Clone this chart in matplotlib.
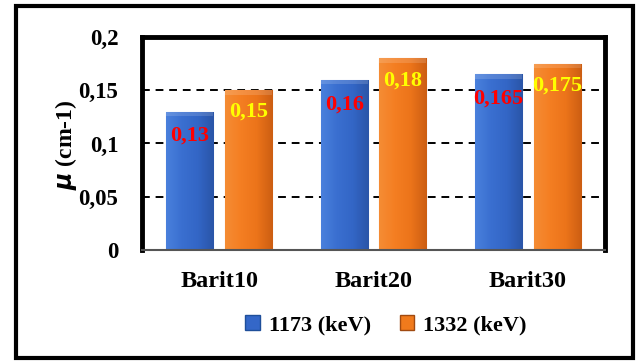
import numpy as np
import matplotlib
matplotlib.use("Agg")
import matplotlib.pyplot as plt
from matplotlib.patches import Rectangle, Patch
from matplotlib.colors import LinearSegmentedColormap

plt.rcParams['font.family'] = ['Liberation Serif', 'DejaVu Serif']
plt.rcParams['font.weight'] = 'bold'

categories = ["Barit10", "Barit20", "Barit30"]
mu_1173 = [0.13, 0.16, 0.165]
mu_1332 = [0.15, 0.18, 0.175]
labels_1173 = ["0,13", "0,16", "0,165"]
labels_1332 = ["0,15", "0,18", "0,175"]
yticks = [0, 0.05, 0.1, 0.15, 0.2]
ytick_labels = ["0", "0,05", "0,1", "0,15", "0,2"]

blue = "#3467c8"
orange = "#f07a1c"
blue_cmap = LinearSegmentedColormap.from_list("b", ["#4a80dc", "#3a6fd0", "#3366c6", "#2a55a8"])
orange_cmap = LinearSegmentedColormap.from_list("o", ["#f58c34", "#f47e22", "#ec741a", "#cc5e12"])

fig = plt.figure(figsize=(6.43, 3.61), dpi=100)

# outer frame
fig.patches.append(Rectangle((0.025, 0.009), 0.959, 0.974, transform=fig.transFigure,
                             fill=False, edgecolor="black", linewidth=3.0, zorder=10))

ax = fig.add_axes([0.2208, 0.3075, 0.7201, 0.59])
x = np.arange(len(categories))
width = 0.305
off = 0.19


def gradient_bars(bars, cmap):
    grad = np.linspace(0, 1, 64).reshape(1, -1)
    for b in bars:
        b.set_facecolor("none")
        x0, y0 = b.get_x(), b.get_y()
        w, h = b.get_width(), b.get_height()
        im = ax.imshow(grad, cmap=cmap, extent=(x0, x0 + w, y0, y0 + h),
                       aspect="auto", zorder=2, interpolation="bicubic")
        im.set_clip_path(b)
        # light bevel at the top of the bar
        ax.add_patch(Rectangle((x0, y0 + h - 0.004), w, 0.004, facecolor="white",
                               alpha=0.15, edgecolor="none", zorder=3))


b1 = ax.bar(x - off, mu_1173, width, color=blue, edgecolor="#9ab4e0", linewidth=0.8, zorder=2)
b2 = ax.bar(x + off, mu_1332, width, color=orange, edgecolor="#e0a070", linewidth=0.8, zorder=2)
gradient_bars(b1, blue_cmap)
gradient_bars(b2, orange_cmap)

for xi, v, t in zip(x, mu_1173, labels_1173):
    ax.text(xi - off, v - 0.023, t, ha="center", va="center", color="red",
            fontsize=16, fontweight="bold", zorder=5)
for xi, v, t in zip(x, mu_1332, labels_1332):
    ax.text(xi + off, v - 0.0205, t, ha="center", va="center", color="#ffff00",
            fontsize=16, fontweight="bold", zorder=5)

ax.set_xlim(-0.5, 2.5)
ax.set_ylim(0, 0.2)
ax.set_yticks(yticks)
ax.set_yticklabels(ytick_labels, fontsize=16.5, fontweight="bold")
ax.set_xticks(x)
ax.set_xticklabels(categories, fontsize=17.5, fontweight="bold")
ax.tick_params(axis="both", length=0)
ax.tick_params(axis="y", pad=17)
ax.tick_params(axis="x", pad=15)

for yv in yticks[1:4]:
    ax.axhline(yv, color="black", linestyle=(0, (4, 3)), linewidth=1.4, zorder=1)

for side in ["left", "top", "right"]:
    ax.spines[side].set_linewidth(3.5)
    ax.spines[side].set_color("black")
ax.spines["bottom"].set_linewidth(1.5)
ax.spines["bottom"].set_color("#555555")

fig.text(0.103, 0.6, r"$\mu$ (cm-1)", rotation=90, ha="center", va="center",
         fontsize=17, fontweight="bold")

handles = [Patch(facecolor=blue, edgecolor="#1f4f9a"), Patch(facecolor=orange, edgecolor="#a04a10")]
fig.legend(handles, ["1173 (keV)", "1332 (keV)"], loc="center", bbox_to_anchor=(0.6, 0.1),
           ncol=2, frameon=False, prop={"size": 16, "weight": "bold"},
           handlelength=0.65, handleheight=0.65, handletextpad=0.4, columnspacing=1.3)

fig.savefig("out.png", dpi=100)
